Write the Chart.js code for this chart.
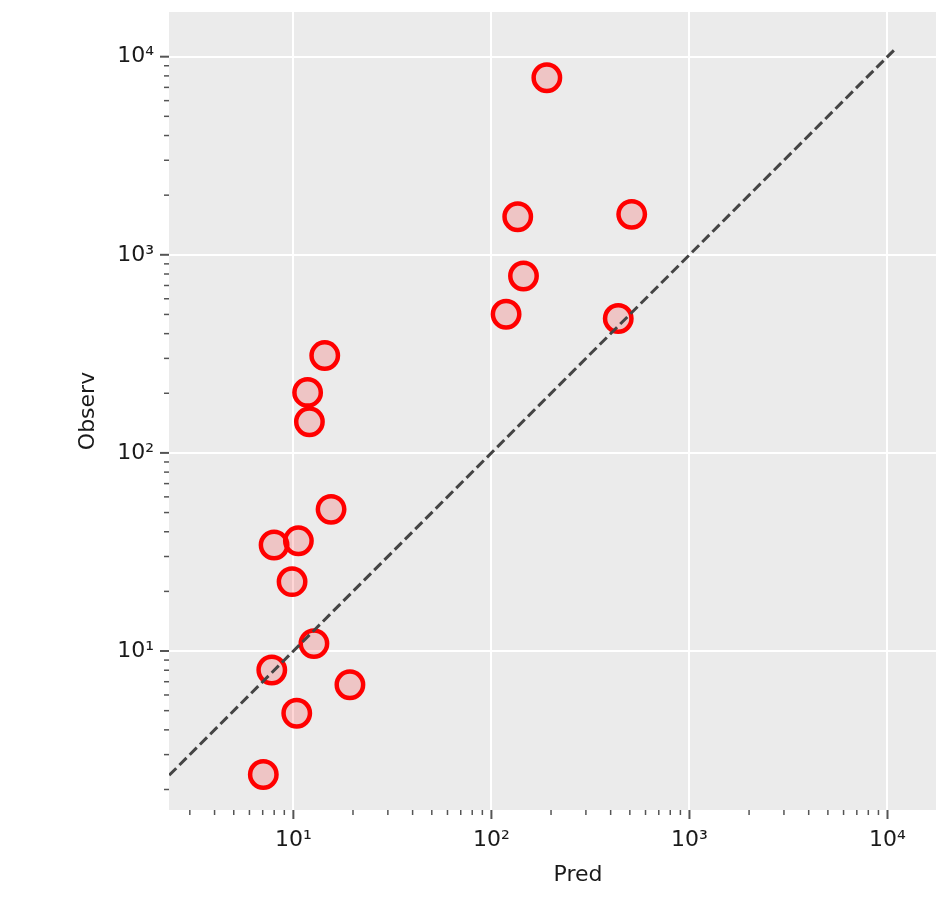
<!DOCTYPE html>
<html>
<head>
<meta charset="utf-8">
<script src="https://cdn.jsdelivr.net/npm/chart.js@4.4.1/dist/chart.umd.min.js"></script>
<style>
  html, body { margin: 0; padding: 0; background: #fff; overflow: hidden; }
  #wrap { width: 936px; height: 902px; overflow: hidden; }
</style>
</head>
<body>
<div id="wrap"><canvas id="chart-area" width="990" height="902"></canvas></div>
<script>
// values (log-log)
var predX   = [7.05, 7.78, 10.4, 12.7, 19.3, 9.85, 7.99, 10.6, 15.5, 12.05, 11.8, 14.4, 118.6, 145.2, 135.8, 190.5, 511, 437];
var observY = [2.38, 8.02, 4.85, 10.9, 6.76, 22.4, 34.3, 36.0, 51.9, 143.7, 202, 310, 501, 782, 1556, 7830, 1600, 477];

// y = x reference line
var lineX = [2.36, 10800];

var majorValues = [10, 100, 1000, 10000];
var majorLabels = ['10¹', '10²', '10³', '10⁴'];

var xMin = 2.355, xMax = 31800;
var yMin = 1.576, yMax = 16810;

function logTicks(min, max){
    var ticks = [];
    for(var d = -1; d <= 5; d++){
        for(var k = 1; k <= 9; k++){
            var v = k * Math.pow(10, d);
            if(v >= min && v <= max){
                ticks.push({ value: v, major: k === 1 });
            }
        }
    }
    return ticks;
}

function tickLabel(value){
    var i = majorValues.indexOf(Math.round(value));
    return (i >= 0 && Math.abs(value - majorValues[i]) < 1e-6) ? majorLabels[i] : '';
}

var points = [];
for(var i = 0; i < predX.length; i++){
    points.push({ x: predX[i], y: observY[i] });
}
var linePts = [];
for(var j = 0; j < lineX.length; j++){
    linePts.push({ x: lineX[j], y: lineX[j] });
}

var panelBg = {
    id: 'panelBg',
    beforeDraw: function(chart){
        var a = chart.chartArea, ctx = chart.ctx;
        ctx.save();
        ctx.fillStyle = '#EBEBEB';
        ctx.fillRect(a.left, a.top, a.right - a.left, a.bottom - a.top);
        ctx.restore();
    }
};

// outward tick marks, long for decades and short for minors
var tickMarks = {
    id: 'tickMarks',
    afterDraw: function(chart){
        var ctx = chart.ctx, a = chart.chartArea;
        ctx.save();
        ctx.strokeStyle = '#555555';
        chart.scales.x.ticks.forEach(function(t){
            var px = chart.scales.x.getPixelForValue(t.value);
            ctx.lineWidth = t.major ? 2 : 1.5;
            ctx.beginPath();
            ctx.moveTo(px, a.bottom);
            ctx.lineTo(px, a.bottom + (t.major ? 9 : 5));
            ctx.stroke();
        });
        chart.scales.y.ticks.forEach(function(t){
            var py = chart.scales.y.getPixelForValue(t.value);
            ctx.lineWidth = t.major ? 2 : 1.5;
            ctx.beginPath();
            ctx.moveTo(a.left, py);
            ctx.lineTo(a.left - (t.major ? 9 : 5), py);
            ctx.stroke();
        });
        ctx.restore();
    }
};

var gridOpts = {
    color: function(c){ return (c.tick && c.tick.major) ? '#FFFFFF' : 'rgba(0,0,0,0)'; },
    lineWidth: 2,
    drawTicks: false,
    drawOnChartArea: true
};

var config = {
    type: 'scatter',
    data: {
        datasets: [{
            type: 'line',
            data: linePts,
            borderColor: '#444444',
            borderWidth: 3,
            borderDash: [10, 4.5],
            pointRadius: 0,
            fill: false,
            order: 0
        }, {
            data: points,
            backgroundColor: 'rgba(255,0,0,0.16)',
            borderColor: '#FF0000',
            borderWidth: 4.5,
            pointRadius: 13.2,
            pointHoverRadius: 13.2,
            order: 1
        }]
    },
    options: {
        responsive: false,
        animation: false,
        layout: { autoPadding: false, padding: { top: 12, right: 3, left: 0, bottom: 0 } },
        plugins: {
            legend: { display: false },
            tooltip: { enabled: false }
        },
        scales: {
            x: {
                type: 'logarithmic',
                bounds: 'data',
                min: xMin,
                max: xMax,
                afterBuildTicks: function(s){ s.ticks = logTicks(xMin, xMax); },
                afterFit: function(s){ s.height = 92; s.paddingLeft = 0; s.paddingRight = 0; },
                grid: gridOpts,
                border: { display: false },
                ticks: {
                    autoSkip: false,
                    maxRotation: 0,
                    padding: 17,
                    color: '#1a1a1a',
                    font: { family: 'DejaVu Sans', size: 22 },
                    callback: tickLabel
                },
                title: {
                    display: true,
                    text: 'Pred',
                    color: '#1a1a1a',
                    font: { family: 'DejaVu Sans', size: 22 },
                    padding: { top: 0, bottom: 14 }
                }
            },
            y: {
                type: 'logarithmic',
                bounds: 'data',
                min: yMin,
                max: yMax,
                afterBuildTicks: function(s){ s.ticks = logTicks(yMin, yMax); },
                afterFit: function(s){ s.width = 169; s.paddingTop = 0; s.paddingBottom = 0; },
                grid: gridOpts,
                border: { display: false },
                ticks: {
                    autoSkip: false,
                    padding: 15,
                    color: '#1a1a1a',
                    font: { family: 'DejaVu Sans', size: 22 },
                    callback: tickLabel
                },
                title: {
                    display: true,
                    text: 'Observ',
                    color: '#1a1a1a',
                    font: { family: 'DejaVu Sans', size: 22 },
                    padding: { top: 75, bottom: 0 }
                }
            }
        }
    },
    plugins: [panelBg, tickMarks]
};

var ctx = document.getElementById('chart-area').getContext('2d');
window.myScatter = new Chart(ctx, config);
</script>
</body>
</html>
